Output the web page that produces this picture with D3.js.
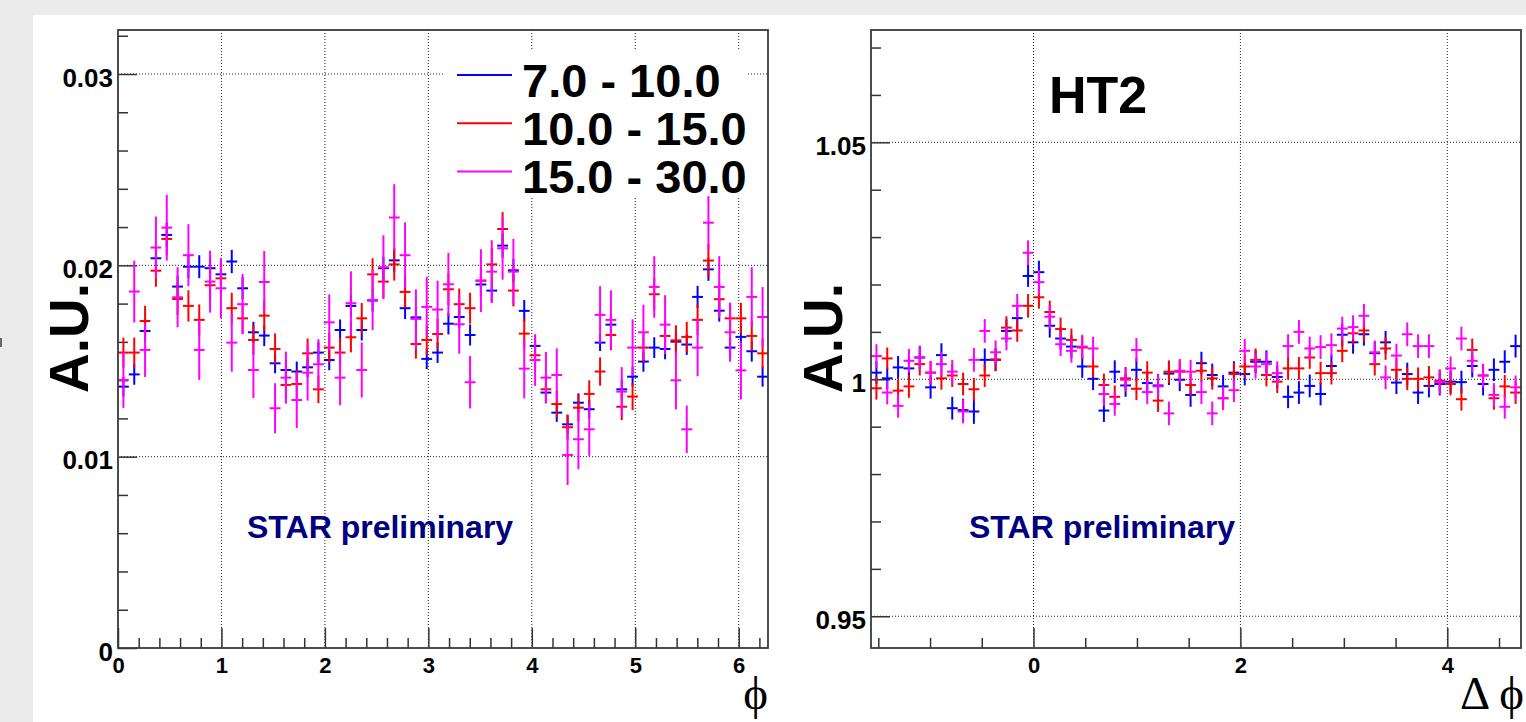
<!DOCTYPE html>
<html>
<head>
<meta charset="utf-8">
<script src="https://cdn.jsdelivr.net/npm/d3@7"></script>
<style>
  html, body { margin: 0; padding: 0; background: #ebebeb; }
  svg { display: block; }
  .lbl { font-family: "Liberation Sans", Arial, Helvetica, sans-serif; font-weight: bold; }
  .greek { font-family: "Liberation Serif", "DejaVu Serif", "Times New Roman", serif; }
</style>
</head>
<body>
<svg id="chart" width="1526" height="722"></svg>
<script>
// ---------------- data ----------------
const nBins = 60;
const seriesNames = ["7.0 - 10.0", "10.0 - 15.0", "15.0 - 30.0"];
const seriesColors = ["#0000ff", "#ff0000", "#ff00ff"];

// left: phi distribution (A.U.)
const phiBlue = [0.01366,0.0143,0.01657,0.02037,0.02159,0.01889,0.01993,0.01993,0.01985,0.01953,
  0.0202,0.0188,0.0165,0.01633,0.01488,0.01453,0.01445,0.01467,0.01544,0.01505,
  0.01662,0.01788,0.01662,0.01816,0.01985,0.02026,0.01776,0.01728,0.01511,0.01544,
  0.01695,0.0173,0.01636,0.019,0.01868,0.02103,0.01974,0.01762,0.01579,0.01335,
  0.0123,0.01169,0.01282,0.01248,0.01596,0.0169,0.01352,0.01418,0.01497,0.0157,
  0.01563,0.01601,0.01586,0.01835,0.01979,0.01763,0.0157,0.01626,0.01551,0.01418];
const phiRed = [0.01544,0.01544,0.01709,0.01972,0.02138,0.01824,0.01788,0.01715,0.01896,0.01932,
  0.01776,0.01723,0.0161,0.01737,0.01563,0.01375,0.0138,0.0154,0.01352,0.0157,
  0.01544,0.01624,0.01723,0.01953,0.01915,0.02005,0.01861,0.01589,0.0161,0.01641,
  0.01875,0.01797,0.01776,0.0192,0.02005,0.0219,0.01868,0.01643,0.0153,0.01352,
  0.01275,0.01154,0.01256,0.01328,0.01445,0.01636,0.01261,0.01314,0.0157,0.01849,
  0.01631,0.01608,0.01626,0.01715,0.02025,0.01823,0.01723,0.01723,0.01631,0.0154];
const phiMagenta = [0.01401,0.01863,0.01558,0.02093,0.02197,0.01833,0.02053,0.01558,0.01915,0.0188,
  0.01596,0.01797,0.01453,0.01913,0.01253,0.01413,0.01296,0.01439,0.01483,0.01702,
  0.01413,0.01802,0.01453,0.01819,0.0199,0.0225,0.02053,0.0172,0.01783,0.01769,
  0.01901,0.01692,0.01389,0.0192,0.01967,0.02089,0.01967,0.0146,0.01505,0.01413,
  0.01427,0.01009,0.01091,0.01143,0.01741,0.01715,0.0134,0.0157,0.0165,0.01887,
  0.0169,0.01399,0.01143,0.0157,0.02223,0.01887,0.0165,0.01451,0.01835,0.0173];

const phiErrBlue = [0.00052,0.00054,0.00056,0.0006,0.00062,0.00058,0.0006,0.0006,0.0006,0.00059,
  0.00061,0.00058,0.00055,0.00055,0.00052,0.00052,0.00052,0.00052,0.00054,0.00053,
  0.00055,0.00058,0.00055,0.00058,0.0006,0.00061,0.00057,0.00056,0.00053,0.00054,
  0.00056,0.00057,0.00055,0.00059,0.00059,0.00062,0.0006,0.00057,0.00054,0.0005,
  0.00048,0.00047,0.00049,0.00048,0.00044,0.00056,0.0005,0.00051,0.00053,0.00054,
  0.00054,0.00055,0.00054,0.00058,0.0006,0.00057,0.00054,0.00055,0.00054,0.00052];
const phiErrRed = [0.00078,0.00078,0.0008,0.00084,0.00087,0.00083,0.00082,0.00081,0.00084,0.00084,
  0.00081,0.0008,0.00078,0.00081,0.00081,0.00072,0.00073,0.00078,0.00072,0.00078,
  0.00077,0.00079,0.0008,0.00084,0.00084,0.00085,0.00083,0.00077,0.00078,0.00079,
  0.00083,0.00082,0.00081,0.00084,0.00086,0.00088,0.00083,0.00079,0.00077,0.00072,
  0.0007,0.00067,0.0007,0.00071,0.00074,0.00079,0.0007,0.00071,0.00078,0.00084,
  0.00079,0.00079,0.00079,0.00081,0.00086,0.00083,0.00081,0.00081,0.00079,0.00077];
const phiErrMagenta = [0.00146,0.00162,0.00141,0.00162,0.00172,0.00157,0.00162,0.00157,0.00162,0.00157,
  0.00152,0.00157,0.00146,0.00162,0.00131,0.00136,0.00146,0.00146,0.00131,0.00146,
  0.00144,0.00167,0.00144,0.00157,0.00167,0.00174,0.00172,0.00154,0.00157,0.00151,
  0.00164,0.00154,0.00137,0.00164,0.00164,0.00164,0.00172,0.00155,0.00135,0.00135,
  0.00139,0.00157,0.00157,0.00139,0.0015,0.00154,0.00128,0.00148,0.00144,0.00161,
  0.00154,0.00152,0.00124,0.0015,0.00139,0.00161,0.00154,0.00152,0.00155,0.00157];

// right: delta-phi correlation (HT2)
const dphiBlue = [1.0014,1.0002,1.0025,1.0023,1.0046,0.9983,1.0051,0.9939,0.9935,0.9932,
  1.0041,1.0041,1.0102,1.0129,1.0218,1.0226,1.0113,1.0086,1.0069,1.0027,
  1.0001,0.9934,1.0016,0.9987,1.002,0.9992,0.9987,1.0012,0.9999,0.9967,
  1.0034,1.0009,0.9985,1.0014,1.0011,1.0037,1.0037,1.0005,0.9963,0.9972,
  0.9986,0.9969,1.0028,1.0094,1.0078,1.0095,1.0055,1.0078,0.9993,1.0011,
  0.9972,0.9986,0.999,0.9995,0.9994,1.0028,0.999,1.002,1.0037,1.007];
const dphiRed = [0.9981,1.0044,0.9976,0.9985,1.0032,1.0014,1.0002,1.0008,0.999,0.9979,
  1.0008,1.0042,1.0109,1.0103,1.0155,1.0173,1.0142,1.0106,1.0083,1.0067,
  1.0027,0.9988,0.9963,1.0002,0.998,1.0014,0.9955,1.0016,1.0016,0.9988,
  1.0018,1.0002,0.996,1.0011,1.0027,1.0041,1.0009,0.9995,1.0023,1.0023,
  1.0046,1.0013,1.0013,1.006,1.0097,1.0103,1.0032,1.0065,1.002,1.0001,
  1.0001,1.0004,0.9997,0.999,0.9958,1.0062,1.0008,0.996,0.9985,0.9972];
const dphiMagenta = [1.0049,0.9972,0.9944,1.0039,1.0046,1.0014,1.0032,1.0016,0.9932,1.0041,
  1.0102,1.0057,1.0086,1.0155,1.0267,1.0205,1.0132,1.0074,1.006,1.0069,
  1.0065,0.9969,0.9948,0.9999,1.0062,0.9973,0.9985,0.9928,1.0018,1.0016,
  0.9973,0.9928,0.996,0.9977,1.006,1.0027,1.0032,1.0013,1.007,1.01,
  1.0065,1.0068,1.0072,1.0107,1.011,1.0134,1.0057,1.0004,1.005,1.0095,
  1.007,1.007,0.9994,1.0023,1.0086,1.0039,1.0008,0.9967,0.9942,0.9983];

const dphiErrBlue = [0.0024,0.0023,0.0024,0.0024,0.0024,0.0024,0.0025,0.0024,0.0024,0.0026,
  0.0024,0.0024,0.0024,0.0024,0.0023,0.0024,0.0025,0.0024,0.0024,0.0024,
  0.0024,0.0024,0.0024,0.0024,0.0024,0.0024,0.0024,0.0024,0.0024,0.0025,
  0.0024,0.0024,0.0024,0.0024,0.0024,0.0024,0.0024,0.0024,0.0024,0.0024,
  0.0024,0.0024,0.0024,0.0024,0.0024,0.0024,0.0024,0.0024,0.0024,0.0024,
  0.0024,0.0024,0.0024,0.0024,0.0024,0.0024,0.0024,0.0024,0.0024,0.0024];
const dphiErrRed = [0.0024,0.0023,0.0024,0.0024,0.0024,0.0024,0.0024,0.0024,0.0024,0.0024,
  0.0024,0.0024,0.0024,0.0024,0.0025,0.0024,0.0024,0.0024,0.0024,0.0024,
  0.0024,0.0024,0.0024,0.0024,0.0024,0.0024,0.0024,0.0024,0.0024,0.0024,
  0.0024,0.0024,0.0024,0.0024,0.0024,0.0024,0.0024,0.0024,0.0024,0.0024,
  0.0024,0.0024,0.0024,0.0024,0.0024,0.0024,0.0024,0.0024,0.0024,0.0024,
  0.0024,0.0024,0.0024,0.0024,0.0024,0.0024,0.0024,0.0024,0.0024,0.0024];
const dphiErrMagenta = [0.0025,0.0025,0.0025,0.0025,0.0025,0.0025,0.0025,0.0025,0.0025,0.0025,
  0.0025,0.0025,0.0025,0.0025,0.0026,0.0025,0.0025,0.0025,0.0025,0.0025,
  0.0025,0.0025,0.0025,0.0025,0.0025,0.0025,0.0025,0.0025,0.0025,0.0025,
  0.0025,0.0025,0.0025,0.0025,0.0025,0.0025,0.0025,0.0025,0.0025,0.0025,
  0.0025,0.0025,0.0025,0.0025,0.0025,0.0025,0.0025,0.0025,0.0025,0.0025,
  0.0025,0.0025,0.0025,0.0025,0.0025,0.0025,0.0025,0.0025,0.0025,0.0025];

// tick values and labels
const phiTicks = [0, 1, 2, 3, 4, 5, 6];
const phiTickLabels = ["0", "1", "2", "3", "4", "5", "6"];
const phiYTicks = [0, 0.01, 0.02, 0.03];
const phiYTickLabels = ["0", "0.01", "0.02", "0.03"];
const dphiTicks = [0, 2, 4];
const dphiTickLabels = ["0", "2", "4"];
const dphiYTicks = [0.95, 1, 1.05];
const dphiYTickLabels = ["0.95", "1", "1.05"];

// ---------------- drawing ----------------
const svg = d3.select("#chart");
svg.append("rect").attr("width", 1526).attr("height", 722).attr("fill", "#ebebeb");
svg.append("rect").attr("x", 33).attr("y", 15).attr("width", 1493).attr("height", 707).attr("fill", "#ffffff");
svg.append("rect").attr("x", 0).attr("y", 338).attr("width", 2).attr("height", 9).attr("fill", "#666");

const panels = [
  {
    left: 118, top: 30, width: 650, height: 618,
    xDomain: [0, 2 * Math.PI], yDomain: [0, 0.0323],
    series: [phiBlue, phiRed, phiMagenta],
    errors: [phiErrBlue, phiErrRed, phiErrMagenta],
    xTicks: phiTicks, xLabels: phiTickLabels,
    xMinor: d3.range(1, 32).map(i => i * 0.2).filter(v => Math.abs(v - Math.round(v)) > 1e-6),
    yTicks: phiYTicks, yLabels: phiYTickLabels,
    yMinor: d3.range(1, 17).map(i => i * 0.002).filter(v => Math.abs(v * 100 - Math.round(v * 100)) > 1e-6),
    xGrid: [1, 2, 3, 4, 5, 6], yGrid: [0.01, 0.02, 0.03]
  },
  {
    left: 871, top: 30, width: 650, height: 618,
    xDomain: [-Math.PI / 2, 1.5 * Math.PI], yDomain: [0.9433, 1.0737],
    series: [dphiBlue, dphiRed, dphiMagenta],
    errors: [dphiErrBlue, dphiErrRed, dphiErrMagenta],
    xTicks: dphiTicks, xLabels: dphiTickLabels,
    xMinor: [-1.5, -1, -0.5, 0.5, 1, 1.5, 2.5, 3, 3.5, 4.5],
    yTicks: dphiYTicks, yLabels: dphiYTickLabels,
    yMinor: d3.range(96, 108).map(i => i / 100).filter(v => Math.abs(v - 1) > 1e-6 && Math.abs(v - 1.05) > 1e-6),
    xGrid: [0, 2, 4], yGrid: [0.95, 1, 1.05]
  }
];

function styleAxis(sel, size, dy) {
  sel.select(".domain").remove();
  sel.selectAll(".tick line").attr("stroke", "#333").attr("stroke-width", 1.5);
  sel.selectAll(".tick text")
    .attr("class", "lbl")
    .attr("fill", "#000")
    .style("font-size", size + "px");
  if (dy !== undefined) sel.selectAll(".tick text").attr("dy", dy);
  sel.attr("font-family", null).attr("font-size", null);
}

panels.forEach((p, pi) => {
  const g = svg.append("g");
  const x = d3.scaleLinear().domain(p.xDomain).range([p.left, p.left + p.width]);
  const y = d3.scaleLinear().domain(p.yDomain).range([p.top + p.height, p.top]);
  const clipId = "clip" + pi;
  svg.append("clipPath").attr("id", clipId).append("rect")
    .attr("x", p.left).attr("y", p.top).attr("width", p.width).attr("height", p.height);

  // grid
  const grid = g.append("g").attr("stroke", "#222").attr("stroke-width", 1).attr("stroke-dasharray", "1,2");
  grid.selectAll(".gx").data(p.xGrid).join("line")
    .attr("x1", d => x(d)).attr("x2", d => x(d))
    .attr("y1", p.top).attr("y2", p.top + p.height);
  grid.selectAll(".gy").data(p.yGrid).join("line")
    .attr("x1", p.left).attr("x2", p.left + p.width)
    .attr("y1", d => y(d)).attr("y2", d => y(d));

  // minor ticks
  g.append("g").attr("transform", `translate(${p.left},0)`)
    .call(d3.axisLeft(y).tickValues(p.yMinor).tickSize(-10).tickFormat(""))
    .call(s => styleAxis(s, 10));
  g.append("g").attr("transform", `translate(0,${p.top + p.height})`)
    .call(d3.axisBottom(x).tickValues(p.xMinor).tickSize(-10).tickFormat(""))
    .call(s => styleAxis(s, 10));

  // major ticks with labels
  g.append("g").attr("transform", `translate(${p.left},0)`)
    .call(d3.axisLeft(y).tickValues(p.yTicks).tickSize(-19).tickPadding(5)
      .tickFormat((d, i) => p.yLabels[i]))
    .call(s => styleAxis(s, 26, "0.47em"));
  g.append("g").attr("transform", `translate(0,${p.top + p.height})`)
    .call(d3.axisBottom(x).tickValues(p.xTicks).tickSize(-20).tickPadding(9)
      .tickFormat((d, i) => p.xLabels[i]))
    .call(s => styleAxis(s, 22));

  // data: error crosses, one per bin
  const binW = (p.xDomain[1] - p.xDomain[0]) / nBins;
  const dataG = g.append("g").attr("clip-path", `url(#${clipId})`);
  p.series.forEach((vals, si) => {
    const pts = vals.map((v, i) => ({
      lo: p.xDomain[0] + i * binW,
      hi: p.xDomain[0] + (i + 1) * binW,
      c: p.xDomain[0] + (i + 0.5) * binW,
      v: v,
      e: p.errors[si][i]
    }));
    const sg = dataG.append("g").attr("stroke", seriesColors[si]).attr("stroke-width", 2);
    sg.selectAll(".h").data(pts).join("line")
      .attr("x1", d => x(d.lo)).attr("x2", d => x(d.hi))
      .attr("y1", d => y(d.v)).attr("y2", d => y(d.v));
    sg.selectAll(".v").data(pts).join("line")
      .attr("x1", d => x(d.c)).attr("x2", d => x(d.c))
      .attr("y1", d => y(d.v - d.e)).attr("y2", d => y(d.v + d.e));
  });

  // frame
  g.append("rect")
    .attr("x", p.left).attr("y", p.top).attr("width", p.width).attr("height", p.height)
    .attr("fill", "none").attr("stroke", "#3a3a3a").attr("stroke-width", 1.8);
});

// axis titles
function axisTitle(xPos, yPos) {
  svg.append("text").attr("class", "lbl")
    .attr("transform", `translate(${xPos},${yPos}) rotate(-90)`)
    .attr("text-anchor", "middle")
    .style("font-size", "55px")
    .text("A.U.");
}
axisTitle(88, 338);
axisTitle(842, 338);

svg.append("text").attr("class", "greek")
  .attr("x", 768).attr("y", 709).attr("text-anchor", "end")
  .style("font-size", "47px").text("\u03D5");
svg.append("text").attr("class", "greek")
  .attr("x", 1524).attr("y", 709).attr("text-anchor", "end")
  .style("font-size", "47px").text("\u0394 \u03D5");

// annotations
svg.append("text").attr("class", "lbl")
  .attr("x", 247).attr("y", 538).attr("fill", "#000080")
  .style("font-size", "32px").text("STAR preliminary");
svg.append("text").attr("class", "lbl")
  .attr("x", 969).attr("y", 538).attr("fill", "#000080")
  .style("font-size", "32px").text("STAR preliminary");
svg.append("text").attr("class", "lbl")
  .attr("x", 1049).attr("y", 113).attr("fill", "#000")
  .style("font-size", "52px").text("HT2");

// legend
const legend = svg.append("g");
legend.append("rect").attr("x", 445).attr("y", 50).attr("width", 302).attr("height", 146).attr("fill", "#ffffff");
const legendRows = seriesNames.map((name, i) => ({ name, color: seriesColors[i], i }));
legend.selectAll(".ll").data(legendRows).join("line")
  .attr("x1", 457).attr("x2", 512)
  .attr("y1", d => 75 + d.i * 48.3).attr("y2", d => 75 + d.i * 48.3)
  .attr("stroke", d => d.color).attr("stroke-width", 2);
legend.selectAll(".lt").data(legendRows).join("text")
  .attr("class", "lbl")
  .attr("x", 522).attr("y", d => 97 + d.i * 48.2)
  .style("font-size", "47px")
  .text(d => d.name);
</script>
</body>
</html>
